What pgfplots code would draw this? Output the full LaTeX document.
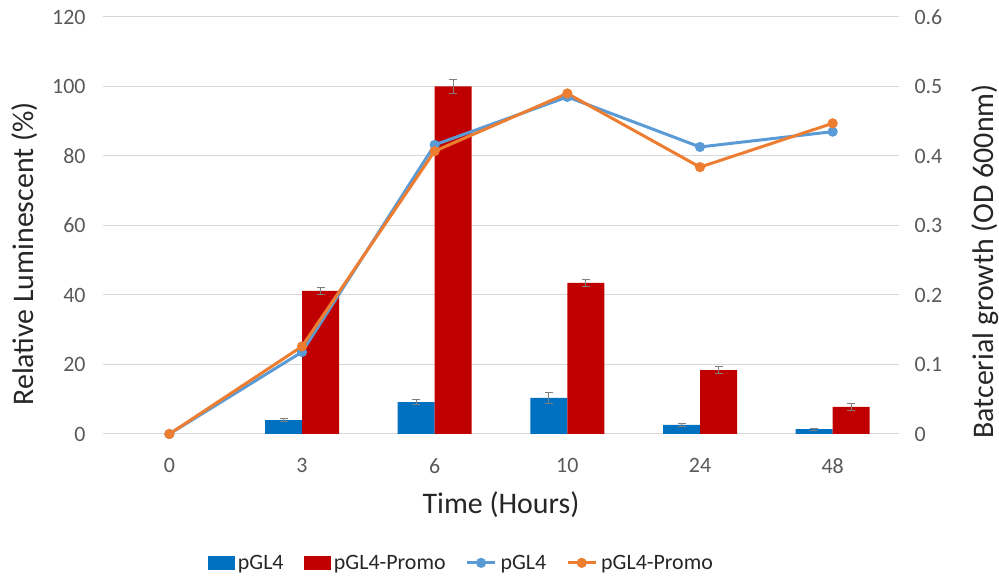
\documentclass[border=0pt]{standalone}
\usepackage{fontspec}
\setmainfont{Carlito}
\usepackage{pgfplots}
\usepackage{pgfplotstable}
\pgfplotsset{compat=1.18}
\definecolor{barblue}{HTML}{0070C0}
\definecolor{barred}{HTML}{C00000}
\definecolor{lineblue}{HTML}{5B9BD5}
\definecolor{lineorange}{HTML}{ED7D31}
\definecolor{txt}{HTML}{595959}
\definecolor{errc}{HTML}{7F7F7F}
\pgfplotstableread{
x y e
1 4.0 0.5
2 9.2 0.8
3 10.4 1.5
4 2.6 0.3
5 1.4 0.3
}\barA
\pgfplotstableread{
x y e
1 41.2 1.0
2 100.0 2.0
3 43.5 1.0
4 18.4 1.0
5 7.8 1.0
}\barB
\pgfplotstableread{
x y
0 0.000
1 0.118
2 0.416
3 0.485
4 0.413
5 0.435
}\lineA
\pgfplotstableread{
x y
0 0.000
1 0.126
2 0.407
3 0.490
4 0.384
5 0.447
}\lineB
\begin{document}
\begin{tikzpicture}
\useasboundingbox (0,0) rectangle (999bp,581bp);
\pgfplotsset{common/.style={
  scale only axis, width=796bp, height=417bp,
  at={(103bp,147bp)}, anchor=south west,
  xmin=-0.5, xmax=5.5,
  major tick length=0,
  axis line style={draw=none},
  tick label style={font=\fontsize{22}{26}\selectfont, text=txt},
  label style={font=\fontsize{30}{36}\selectfont, text=black!85},
  /pgf/number format/assume math mode=true,
}}
\begin{axis}[common,
  ybar=0pt, bar width=37bp,
  ymin=0, ymax=120, ytick={0,20,...,120},
  xtick={0,...,5}, xticklabels={0,3,6,10,24,48},
  xtick pos=bottom, ytick pos=left,
  xticklabel style={yshift=-21bp},
  yticklabel style={xshift=-14bp},
  ymajorgrids, grid style={gray!30, line width=1bp},
  xlabel={Time (Hours)}, ylabel={Relative Luminescent (\%)},
  xlabel style={at={(axis description cs:0.5,-0.17)}, anchor=center},
  ylabel style={at={(axis description cs:-0.098,0.432)}, anchor=center},
]
\addplot[bar shift=-18.5bp, fill=barblue, draw=none,
  error bars/.cd, y dir=both, y explicit,
  error bar style={errc, line width=1bp},
  error mark options={errc, line width=1bp, rotate=90, mark size=4bp}]
  table[x=x, y=y, y error=e] {\barA};
\addplot[bar shift=18.5bp, fill=barred, draw=none,
  error bars/.cd, y dir=both, y explicit,
  error bar style={errc, line width=1bp},
  error mark options={errc, line width=1bp, rotate=90, mark size=4bp}]
  table[x=x, y=y, y error=e] {\barB};
\end{axis}
\begin{axis}[common,
  ymin=0, ymax=0.6, ytick={0,0.1,...,0.6},
  xtick=\empty,
  ytick pos=right, yticklabel pos=right,
  yticklabel style={xshift=12bp, /pgf/number format/fixed, /pgf/number format/precision=1},
  ylabel={Batcerial growth (OD 600nm)},
  ylabel style={at={(axis description cs:1.108,0.414)}, anchor=center, rotate=0},
  legend columns=-1,
  legend style={draw=none, fill=none, at={(axis description cs:0.45,-0.309)}, anchor=center,
    font=\fontsize{22}{26}\selectfont, text=black!85,
    /tikz/every even column/.append style={column sep=18bp},
    /tikz/every odd column/.append style={column sep=2bp}},
]
\addlegendimage{legend image code/.code={\fill[barblue] (0bp,-6bp) rectangle (26bp,7bp);}}
\addlegendentry{pGL4}
\addlegendimage{legend image code/.code={\fill[barred] (0bp,-6bp) rectangle (26bp,7bp);}}
\addlegendentry{pGL4-Promo}
\addplot[lineblue, line width=3bp, mark=*, mark size=3.5bp, mark options={fill=lineblue, draw=lineblue},
  legend image code/.code={\draw[lineblue, line width=3bp] (0bp,0bp)--(28bp,0bp); \fill[lineblue] (14bp,0bp) circle (3.5bp);}]
  table[x=x, y=y] {\lineA};
\addlegendentry{pGL4}
\addplot[lineorange, line width=3bp, mark=*, mark size=3.5bp, mark options={fill=lineorange, draw=lineorange},
  legend image code/.code={\draw[lineorange, line width=3bp] (0bp,0bp)--(28bp,0bp); \fill[lineorange] (14bp,0bp) circle (3.5bp);}]
  table[x=x, y=y] {\lineB};
\addlegendentry{pGL4-Promo}
\end{axis}
\end{tikzpicture}
\end{document}
